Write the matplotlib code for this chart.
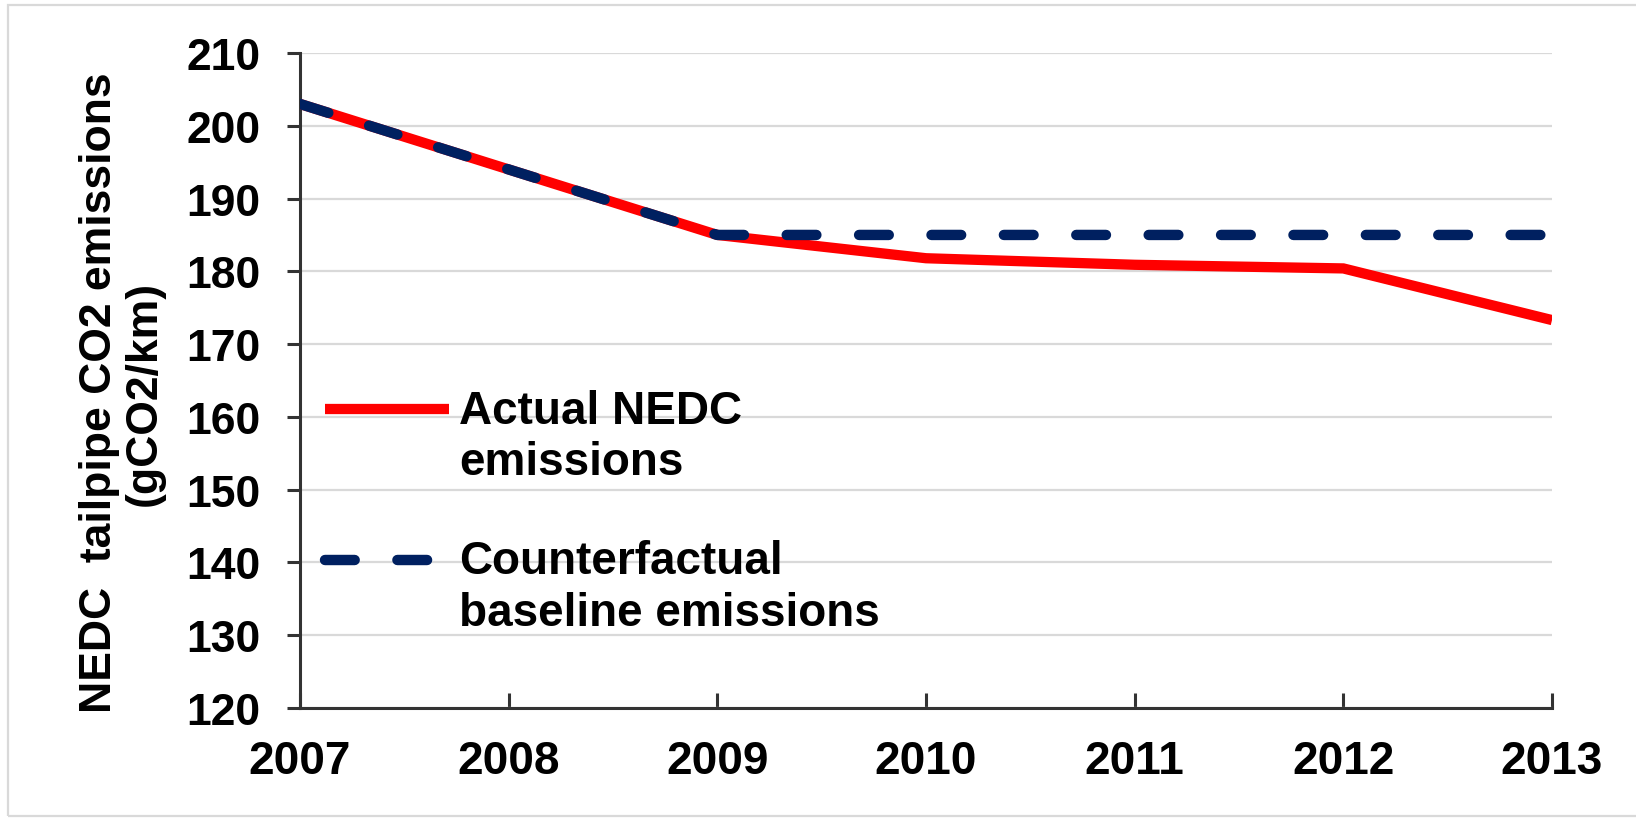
import numpy as np
import matplotlib
matplotlib.use("Agg")
import matplotlib.pyplot as plt
from matplotlib.patches import Rectangle
from matplotlib.lines import Line2D
from matplotlib.legend_handler import HandlerLine2D

# data
years = [2007, 2008, 2009, 2010, 2011, 2012, 2013]
actual = [203.0, 194.0, 185.0, 181.8, 180.9, 180.4, 173.3]
baseline = [203.0, 194.0, 185.0, 185.0, 185.0, 185.0, 185.0]
yticks = [120, 130, 140, 150, 160, 170, 180, 190, 200, 210]
label_actual = "Actual NEDC\nemissions"
label_base = "Counterfactual\nbaseline emissions"

plt.rcParams['font.family'] = ['Liberation Sans', 'DejaVu Sans']
plt.rcParams['font.weight'] = 'bold'

RED = '#FF0000'
NAVY = '#002060'
AXC = '#333333'
GRID = '#D9D9D9'


class FirstLineHandler(HandlerLine2D):
    # put the legend key next to the first line of a two-line label
    def create_artists(self, legend, orig_handle, xdescent, ydescent,
                       width, height, fontsize, trans):
        arts = super().create_artists(legend, orig_handle, xdescent, ydescent,
                                      width, height, fontsize, trans)
        for a in arts:
            a.set_ydata(np.asarray(a.get_ydata()) + 0.62 * fontsize)
        return arts


fig = plt.figure(figsize=(16.36, 8.2), dpi=100)
ax = fig.add_axes([300 / 1636, 1 - 709 / 820, 1252 / 1636, 655 / 820])

ax.plot(years, actual, color=RED, lw=7.4, solid_capstyle='butt',
        solid_joinstyle='miter', label=label_actual, zorder=3)
ax.plot(years, baseline, color=NAVY, lw=7.5, dashes=(2.85, 4.1),
        dash_capstyle='round', label=label_base, zorder=4)

ax.set_xlim(2007, 2013)
ax.set_ylim(120, 210)
ax.set_xticks(years)
ax.set_yticks(yticks)
ax.yaxis.grid(True, color=GRID, lw=1.6)
ax.set_axisbelow(True)

for s in ['top', 'right']:
    ax.spines[s].set_visible(False)
for s in ['left', 'bottom']:
    ax.spines[s].set_color(AXC)
    ax.spines[s].set_linewidth(2.2)

ax.tick_params(axis='y', direction='out', length=9.5, width=2.2, color=AXC,
               labelsize=32, pad=19)
ax.tick_params(axis='x', direction='in', length=11, width=2.2, color=AXC,
               labelsize=33, pad=22)
for t in ax.get_xticklabels() + ax.get_yticklabels():
    t.set_fontweight('bold')

fig.text(122 / 1636, 1 - 393 / 820, "NEDC  tailpipe CO2 emissions\n(gCO2/km)",
         rotation=90, ha='center', va='center', fontsize=32, fontweight='bold',
         linespacing=1.1, multialignment='center')

leg = ax.legend(loc='upper left', bbox_to_anchor=(0.02, 0.487), frameon=False,
                fontsize=33, handlelength=2.7, handletextpad=0.22,
                labelspacing=1.2, borderpad=0, borderaxespad=0,
                handler_map={Line2D: FirstLineHandler()})
for t in leg.get_texts():
    t.set_fontweight('bold')
    t.set_linespacing(1.22)

# light frame around the whole chart
fig.patches.append(Rectangle((8 / 1636, 3 / 820), 1.2, 1 - 9 / 820,
                             transform=fig.transFigure, fill=False,
                             edgecolor=GRID, lw=1.6))

fig.savefig('out.png', dpi=100)
